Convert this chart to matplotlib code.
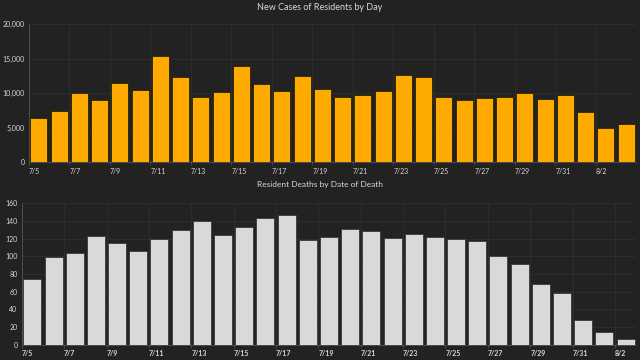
"""
Zwei Balkendiagramme: Neue Faelle und Todesfaelle pro Tag (dunkles Theme).
"""

import matplotlib
matplotlib.use("Agg")
import matplotlib.pyplot as plt
import numpy as np

plt.rcParams["font.family"] = ["Lato", "DejaVu Sans"]

BG = "#222222"
GRID = "#313131"
TEXT = "#d8d8d8"

# ---------------------------------------------------------------------------
# Daten
# ---------------------------------------------------------------------------

case_days = ["7/5", "7/6", "7/7", "7/8", "7/9", "7/10", "7/11", "7/12", "7/13",
             "7/14", "7/15", "7/16", "7/17", "7/18", "7/19", "7/20", "7/21",
             "7/22", "7/23", "7/24", "7/25", "7/26", "7/27", "7/28", "7/29",
             "7/30", "7/31", "8/1", "8/2", "8/3"]
new_cases = [6420, 7340, 10050, 9030, 11400, 10430, 15310, 12320, 9370,
             10140, 13860, 11350, 10290, 12510, 10580, 9420, 9760, 10290,
             12560, 12270, 9420, 9030, 9280, 9470, 10000, 9080, 9710, 7200,
             4980, 5560]

death_days = case_days[:-1]
deaths = [74, 99, 104, 123, 115, 106, 119, 130, 140, 124, 133, 143, 146,
          118, 122, 131, 128, 121, 125, 122, 119, 117, 100, 91, 69, 59, 28,
          14, 7]


def style_axes(ax, labels, yticks, ylabels, bold=False):
    ax.set_facecolor(BG)
    n = len(labels)
    ax.set_xlim(-0.5, n - 0.5)
    ax.set_ylim(yticks[0], yticks[-1])
    ax.set_yticks(yticks)
    ax.set_yticklabels(ylabels)
    # Gitter an jedem zweiten Tag, Beschriftung links buendig
    ax.set_xticks(np.arange(0, n, 2) - 0.5)
    ax.set_xticklabels(labels[::2], ha="left",
                       fontweight="bold" if bold else "normal")
    ax.grid(True, color=GRID, linewidth=0.5)
    ax.set_axisbelow(True)
    ax.tick_params(axis="both", colors=TEXT, labelsize=5, length=0, pad=3)
    ax.tick_params(axis="x", pad=2, length=2, color="#555555", width=0.5)
    for side in ["top", "right"]:
        ax.spines[side].set_visible(False)
    for side in ["left", "bottom"]:
        ax.spines[side].set_color("#555555")
        ax.spines[side].set_linewidth(0.6)


fig = plt.figure(figsize=(6.4, 3.6), dpi=100, facecolor=BG)

ax1 = fig.add_axes([0.045, 0.55, 0.949, 0.383])
x1 = np.arange(len(case_days))
ax1.bar(x1, new_cases, width=0.84, color="#FFAA00", edgecolor="#2a2200",
        linewidth=0.6)
style_axes(ax1, case_days, [0, 5000, 10000, 15000, 20000],
           ["0", "5,000", "10,000", "15,000", "20,000"])
fig.text(0.5, 0.978, "New Cases of Residents by Day", ha="center",
         va="center", color=TEXT, fontsize=6.5)

ax2 = fig.add_axes([0.034, 0.042, 0.96, 0.394])
x2 = np.arange(len(death_days))
ax2.bar(x2, deaths, width=0.85, color="#D9D9D9", edgecolor="#3a3a3a",
        linewidth=0.6)
style_axes(ax2, death_days, list(range(0, 161, 20)),
           [str(v) for v in range(0, 161, 20)], bold=True)
fig.text(0.5, 0.487, "Resident Deaths by Date of Death", ha="center",
         va="center", color=TEXT, fontsize=6)

fig.savefig("out.png", dpi=100, facecolor=BG)
